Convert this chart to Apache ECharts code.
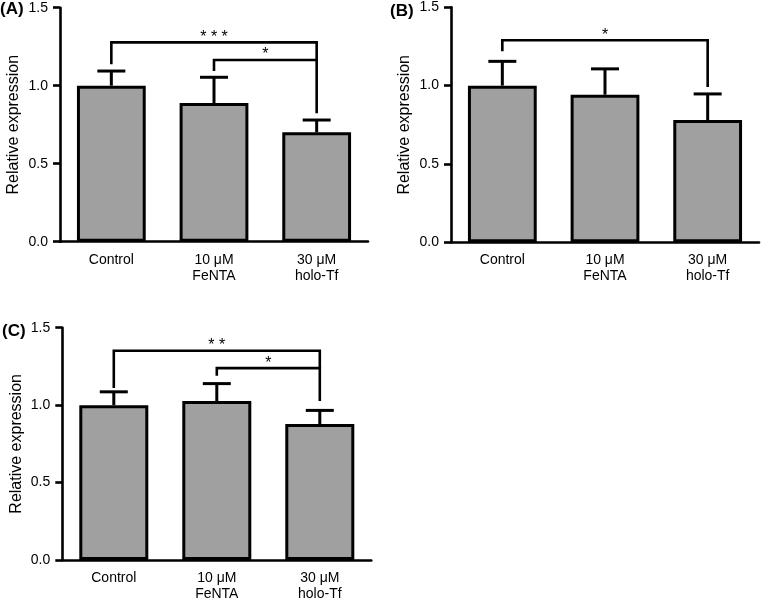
<!DOCTYPE html>
<html>
<head>
<meta charset="utf-8">
<script src="https://cdn.jsdelivr.net/npm/echarts@6/dist/echarts.min.js"></script>
<style>
html,body{margin:0;padding:0;background:#fff;}
#chart{width:761px;height:602px;}
</style>
</head>
<body>
<div id="chart"></div>
<script>
// ---- data ----
var categories = ['Control', '10 \u03bcM\nFeNTA', '30 \u03bcM\nholo-Tf'];
var yTicks = [0, 0.5, 1.0, 1.5];

var meanA = [1.0, 0.889, 0.701];
var errA  = [0.094, 0.165, 0.079];
var meanB = [1.0, 0.942, 0.780];
var errB  = [0.155, 0.165, 0.167];
var meanC = [1.0, 1.026, 0.878];
var errC  = [0.086, 0.113, 0.088];

// brackets: [fromCategory, toCategory, barHeight, leftLegEnd, rightLegEnd]
var bracketsA = [[0, 2, 1.278, 1.137, 1.165], [1, 2, 1.165, 1.094, 0.823]];
var starsA = ['***', '*'];
var bracketsB = [[0, 2, 1.290, 1.219, 0.992]];
var starsB = ['*'];
var bracketsC = [[0, 2, 1.351, 1.111, 1.239], [1, 2, 1.239, 1.190, 1.026]];
var starsC = ['**', '*'];

var panelLabels = ['(A)', '(B)', '(C)'];

// ---- styling / layout ----
var FONT = 'Liberation Sans, Arial, sans-serif';
var grids = [
  {left: 60, top: 7.7, width: 308, height: 234},
  {left: 451, top: 7.3, width: 308, height: 235},
  {left: 62.3, top: 327.7, width: 309, height: 234}
];

function xAxisFor(i) {
  return {
    type: 'category', gridIndex: i, data: categories,
    axisLine: {lineStyle: {color: '#000', width: 2.6}},
    axisTick: {alignWithLabel: true, length: 6, interval: 0, lineStyle: {color: '#000', width: 2.6}},
    axisLabel: {color: '#000', fontFamily: FONT, fontSize: 14, lineHeight: 16, margin: 10, interval: 0},
    splitLine: {show: false}
  };
}
function yAxisFor(i) {
  return {
    type: 'value', gridIndex: i, min: yTicks[0], max: yTicks[yTicks.length - 1], interval: 0.5,
    name: 'Relative expression', nameLocation: 'middle', nameGap: 38,
    nameTextStyle: {color: '#000', fontFamily: FONT, fontSize: 16},
    axisLine: {show: true, lineStyle: {color: '#000', width: 2.6}},
    axisTick: {show: true, length: 7, lineStyle: {color: '#000', width: 2.6}},
    axisLabel: {color: '#000', fontFamily: FONT, fontSize: 14, margin: 12,
      formatter: function (v) { return v.toFixed(1); }},
    splitLine: {show: false}
  };
}

function barSeries(i, mean) {
  return {
    type: 'bar', xAxisIndex: i, yAxisIndex: i, data: mean, barWidth: '67%',
    itemStyle: {color: '#a0a0a0', borderColor: '#000', borderWidth: 3},
    z: 2
  };
}
function errSeries(i, mean, err) {
  var d = mean.map(function (m, k) { return [k, m, m + err[k]]; });
  return {
    type: 'custom', xAxisIndex: i, yAxisIndex: i, data: d, z: 3,
    renderItem: function (params, api) {
      var p0 = api.coord([api.value(0), api.value(1)]);
      var p1 = api.coord([api.value(0), api.value(2)]);
      var hw = 14;
      return {
        type: 'group',
        children: [
          {type: 'line', shape: {x1: p0[0], y1: p0[1], x2: p1[0], y2: p1[1]},
            style: {stroke: '#000', lineWidth: 3}},
          {type: 'line', shape: {x1: p1[0] - hw, y1: p1[1], x2: p1[0] + hw, y2: p1[1]},
            style: {stroke: '#000', lineWidth: 3}}
        ]
      };
    }
  };
}
function bracketSeries(i, brackets, stars) {
  return {
    type: 'custom', xAxisIndex: i, yAxisIndex: i, data: brackets, z: 4, clip: false,
    renderItem: function (params, api) {
      var a = api.coord([api.value(0), api.value(2)]);
      var b = api.coord([api.value(1), api.value(2)]);
      var la = api.coord([api.value(0), api.value(3)]);
      var rb = api.coord([api.value(1), api.value(4)]);
      var txt = stars[params.dataIndex].split('').join(' ');
      return {
        type: 'group',
        children: [
          {type: 'polyline', shape: {points: [[la[0], la[1]], [a[0], a[1]], [b[0], b[1]], [rb[0], rb[1]]]},
            style: {stroke: '#000', lineWidth: 2.6, fill: null}},
          {type: 'text', x: (a[0] + b[0]) / 2, y: a[1] - 5,
            style: {text: txt, fill: '#000', font: '16px ' + FONT, textAlign: 'center', textVerticalAlign: 'middle'}}
        ]
      };
    }
  };
}

var option = {
  backgroundColor: '#fff',
  animation: false,
  grid: grids,
  xAxis: [xAxisFor(0), xAxisFor(1), xAxisFor(2)],
  yAxis: [yAxisFor(0), yAxisFor(1), yAxisFor(2)],
  series: [
    barSeries(0, meanA), errSeries(0, meanA, errA), bracketSeries(0, bracketsA, starsA),
    barSeries(1, meanB), errSeries(1, meanB, errB), bracketSeries(1, bracketsB, starsB),
    barSeries(2, meanC), errSeries(2, meanC, errC), bracketSeries(2, bracketsC, starsC)
  ],
  graphic: [
    {type: 'text', left: 0, top: 1, style: {text: panelLabels[0], fill: '#000', font: 'bold 17px ' + FONT}},
    {type: 'text', left: 390, top: 3, style: {text: panelLabels[1], fill: '#000', font: 'bold 17px ' + FONT}},
    {type: 'text', left: 2, top: 323, style: {text: panelLabels[2], fill: '#000', font: 'bold 17px ' + FONT}}
  ]
};

var chart = echarts.init(document.getElementById('chart'), null, {renderer: 'canvas'});
chart.setOption(option);
</script>
</body>
</html>
